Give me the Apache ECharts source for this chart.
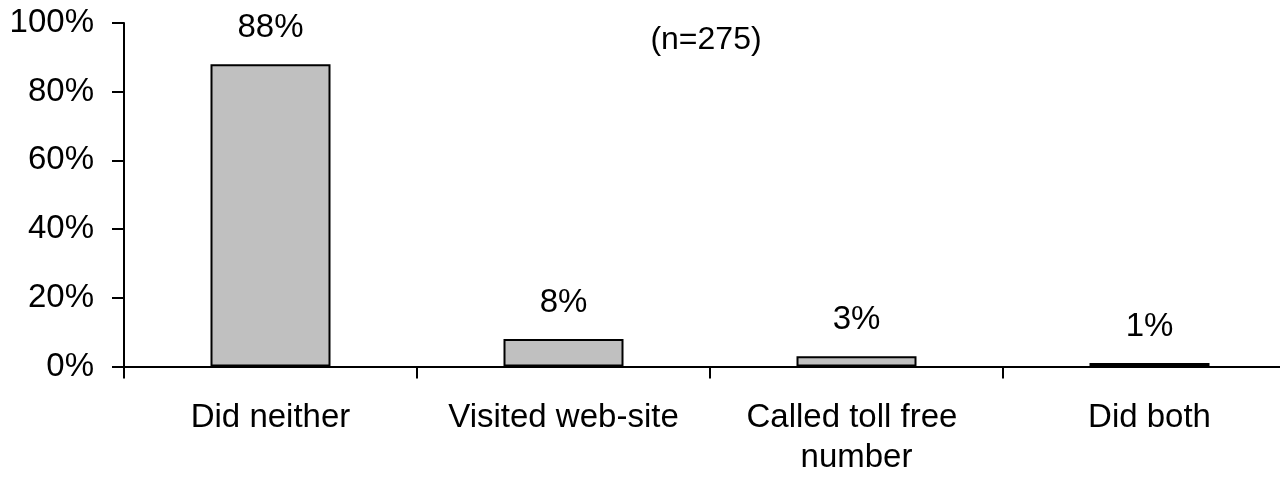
<!DOCTYPE html>
<html>
<head>
<meta charset="utf-8">
<script src="https://cdn.jsdelivr.net/npm/echarts@6/dist/echarts.min.js"></script>
<style>
html,body{margin:0;padding:0;background:#fff;overflow:hidden;width:1280px;height:479px;}
#chart{width:1296px;height:479px;}
</style>
</head>
<body>
<div id="chart"></div>
<script>
const categories = ['Did neither', 'Visited web-site', 'Called toll free number', 'Did both'];
const values = [88, 8, 3, 1];
const yTicks = [0, 20, 40, 60, 80, 100];
const sampleNote = '(n=275)';

const FONT = '"Liberation Sans", Arial, sans-serif';
const chart = echarts.init(document.getElementById('chart'), null, {renderer: 'canvas'});
chart.setOption({
  animation: false,
  backgroundColor: '#ffffff',
  grid: {left: 124, top: 23, bottom: 112.5, right: 0, containLabel: false},
  xAxis: {
    type: 'category',
    data: categories,
    boundaryGap: true,
    axisLine: {show: true, lineStyle: {color: '#000', width: 2}},
    axisTick: {show: true, alignWithLabel: false, length: 12, lineStyle: {color: '#000', width: 2}},
    axisLabel: {
      color: '#000', fontFamily: FONT, fontSize: 33, margin: 31,
      lineHeight: 40, width: 285, overflow: 'break', interval: 0
    },
    splitLine: {show: false}
  },
  yAxis: {
    type: 'value',
    min: 0, max: 100, interval: 20,
    axisLine: {show: true, lineStyle: {color: '#000', width: 2}},
    axisTick: {show: true, length: 12, lineStyle: {color: '#000', width: 2}},
    axisLabel: {
      color: '#000', fontFamily: FONT, fontSize: 33, margin: 30,
      formatter: function (v) { return yTicks.indexOf(v) >= 0 ? v + '%' : ''; }
    },
    splitLine: {show: false}
  },
  series: [{
    type: 'bar',
    data: values,
    barWidth: 120,
    itemStyle: {color: '#C0C0C0', borderColor: '#000', borderWidth: 2},
    label: {
      show: true, position: 'top', distance: 20,
      color: '#000', fontFamily: FONT, fontSize: 33,
      formatter: function (p) { return p.value + '%'; }
    }
  }],
  graphic: [{
    type: 'text',
    x: 706, y: 40,
    style: {
      text: sampleNote, fill: '#000', font: '32px ' + FONT,
      textAlign: 'center', textVerticalAlign: 'middle'
    }
  }]
});
</script>
</body>
</html>
